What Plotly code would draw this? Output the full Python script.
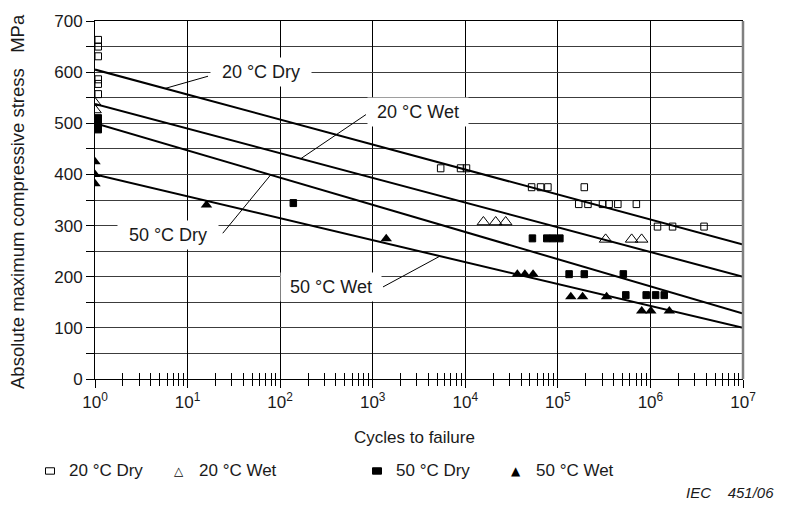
import plotly.graph_objects as go

# ---- Test results: cycles to failure vs. absolute maximum compressive stress (MPa) ----
dry20_cycles = [1, 1, 1, 1, 1, 1, 5000, 8200, 9500, 48000, 60000, 72000, 178000,
                155000, 195000, 280000, 330000, 410000, 650000, 1.1e6, 1.6e6, 3.5e6]
dry20_stress = [663, 650, 631, 586, 577, 557, 412, 412, 412, 375, 375, 375, 375,
                342, 342, 342, 342, 342, 342, 298, 298, 298]

wet20_cycles = [1, 1, 15700, 21300, 27300, 328000, 627000, 803000]
wet20_stress = [540, 526, 307, 307, 307, 273, 273, 273]

dry50_cycles = [1, 1, 1, 128, 49000, 70000, 82000, 97000, 122000, 178000, 470000,
                500000, 830000, 1.05e6, 1.3e6]
dry50_stress = [510, 499, 488, 344, 275, 275, 275, 275, 205, 205, 205,
                164, 164, 164, 164]

wet50_cycles = [1, 1, 1, 16, 1400, 36500, 44000, 54000, 138000, 185000, 336000,
                805000, 1.01e6, 1.6e6]
wet50_stress = [425, 400, 382, 340, 274, 205, 205, 205, 161, 161, 161, 133, 133, 133]

# ---- Design lines (stress at 1 and at 10^7 cycles) ----
fit_cycles = [1, 1e7]
fit_dry20 = [605, 263]
fit_wet20 = [538, 200]
fit_dry50 = [500, 128]
fit_wet50 = [400, 100]

series_names = ["20 °C Dry", "20 °C Wet", "50 °C Dry", "50 °C Wet"]

# ---- Page geometry ----
W, H = 790, 508
ML, MR, MT, MB = 95, 47, 17, 129
PW, PH = W - ML - MR, H - MT - MB
FONT = "Liberation Sans, Arial, Helvetica, sans-serif"
INK = "#1a1a1a"


def paper_x(px):
    return (px - ML) / PW


def paper_y(py):
    return (H - MB - py) / PH


def line_stress(fit, logn):
    """Stress on a straight design line (linear in log10 cycles)."""
    return fit[0] + (fit[1] - fit[0]) * logn / 7.0


fig = go.Figure()

# design lines
for fit in (fit_dry20, fit_wet20, fit_dry50, fit_wet50):
    fig.add_trace(go.Scatter(x=fit_cycles, y=fit, mode="lines",
                             line=dict(color="black", width=2),
                             hoverinfo="skip", showlegend=False))

# triangles
fig.add_trace(go.Scatter(x=wet20_cycles, y=wet20_stress, mode="markers",
                         name=series_names[1], showlegend=False,
                         marker=dict(symbol="triangle-up-open", size=11, color="black",
                                     line=dict(width=1, color="black"))))
fig.add_trace(go.Scatter(x=wet50_cycles, y=wet50_stress, mode="markers",
                         name=series_names[3], showlegend=False,
                         marker=dict(symbol="triangle-up", size=10, color="black",
                                     line=dict(width=0))))

# carrier for the inner half of the crossing minor ticks
fig.add_trace(go.Scatter(x=[], y=[], xaxis="x2", showlegend=False))

shapes = []


def rect_marks(cycles, stress, filled):
    # wide rectangular markers, sized in pixels and anchored at the data point
    for n, s in zip(cycles, stress):
        shapes.append(dict(type="rect", xref="x", yref="y",
                           xsizemode="pixel", ysizemode="pixel",
                           xanchor=n, yanchor=s,
                           x0=-6.5, x1=6.5, y0=-3.5, y1=3.5,
                           line=dict(color="black", width=1),
                           fillcolor="black" if filled else "rgba(0,0,0,0)",
                           layer="above"))


rect_marks(dry20_cycles, dry20_stress, False)
rect_marks(dry50_cycles, dry50_stress, True)

# right frame edge
shapes.append(dict(type="line", xref="paper", yref="paper", x0=1, x1=1, y0=0, y1=1,
                   line=dict(color="#808080", width=2.5), layer="above"))

# line labels with leader lines: (label log10 N, label stress, leader start log10 N,
# leader start stress, leader end log10 N on the line)
labels = [
    (series_names[0], fit_dry20, 1.793, 599.5, 1.221, 592, 0.756),
    (series_names[1], fit_wet20, 3.489, 522, 2.927, 517, 2.222),
    (series_names[2], fit_dry50, 0.789, 282, 1.380, 285, 1.898),
    (series_names[3], fit_wet50, 2.549, 180, 3.111, 180, 3.727),
]

annotations = []
for text, fit, lx, ly, sx, sy, ex in labels:
    annotations.append(dict(text=text, x=lx, y=ly, xref="x", yref="y", showarrow=False,
                            bgcolor="white", width=100, height=28, borderpad=0,
                            font=dict(family=FONT, size=18, color=INK)))
    shapes.append(dict(type="line", xref="x", yref="y",
                       x0=10 ** sx, y0=sy, x1=10 ** ex, y1=line_stress(fit, ex),
                       line=dict(color="black", width=1), layer="above"))

# axis titles
annotations.append(dict(text="Cycles to failure", x=paper_x(414), y=paper_y(438),
                        xref="paper", yref="paper", showarrow=False,
                        xanchor="center", yanchor="middle",
                        font=dict(family=FONT, size=17, color=INK)))
annotations.append(dict(text="Absolute maximum compressive stress\u00a0\u00a0\u00a0MPa",
                        x=paper_x(18), y=paper_y(200), xref="paper", yref="paper",
                        showarrow=False, textangle=-90, xanchor="center", yanchor="middle",
                        font=dict(family=FONT, size=18.5, color=INK)))

# legend row
leg_y = 472
for name, sx in ((series_names[0], 50), (series_names[2], 377)):
    shapes.append(dict(type="rect", xref="paper", yref="paper",
                       xsizemode="pixel", ysizemode="pixel",
                       xanchor=paper_x(sx), yanchor=paper_y(leg_y),
                       x0=-4.5, x1=4.5, y0=-3.2, y1=3.2,
                       line=dict(color="black", width=1),
                       fillcolor="black" if "50" in name else "rgba(0,0,0,0)"))
for glyph, sx in (("\u25b3", 179), ("\u25b2", 516)):
    annotations.append(dict(text=glyph, x=paper_x(sx), y=paper_y(leg_y), xref="paper",
                            yref="paper", showarrow=False, xanchor="center",
                            yanchor="middle",
                            font=dict(family="DejaVu Sans", size=12, color="black")))
for name, tx in zip(series_names, (67, 197, 394, 534)):
    annotations.append(dict(text=name, x=paper_x(tx), y=paper_y(leg_y), xref="paper",
                            yref="paper", showarrow=False, xanchor="left",
                            yanchor="middle",
                            font=dict(family=FONT, size=17, color=INK)))

annotations.append(dict(text="<i>IEC\u00a0\u00a0\u00a0\u00a0451/06</i>", x=paper_x(776),
                        y=paper_y(494), xref="paper", yref="paper", showarrow=False,
                        xanchor="right", yanchor="middle",
                        font=dict(family=FONT, size=15, color=INK)))

major = [10 ** k for k in range(8)]
minor_vals = [m * 10 ** k for k in range(7) for m in range(2, 10)]

fig.update_layout(
    width=W, height=H,
    margin=dict(l=ML, r=MR, t=MT, b=MB, pad=0),
    paper_bgcolor="white", plot_bgcolor="white",
    showlegend=False,
    xaxis=dict(type="log", range=[0, 7], tickvals=major,
               ticktext=[f"10<sup>{k}</sup>" for k in range(8)],
               ticks="outside", ticklen=8, tickwidth=1, tickcolor="black",
               showgrid=True, gridcolor="black", gridwidth=1,
               showline=True, linecolor="black", linewidth=1, mirror=True,
               zeroline=False,
               minor=dict(tickvals=minor_vals, ticks="outside", ticklen=6,
                          tickwidth=1, tickcolor="black", showgrid=False),
               tickfont=dict(family=FONT, size=17, color=INK)),
    xaxis2=dict(type="log", range=[0, 7], overlaying="x", side="bottom", anchor="y",
                showgrid=False, showticklabels=False, ticks="", showline=False,
                zeroline=False,
                minor=dict(tickvals=minor_vals, ticks="inside", ticklen=6,
                           tickwidth=1, tickcolor="black", showgrid=False)),
    yaxis=dict(range=[0, 700], tick0=0, dtick=100,
               ticks="outside", ticklen=8, tickwidth=1, tickcolor="black",
               showgrid=True, gridcolor="#3c3c3c", gridwidth=1,
               showline=True, linecolor="black", linewidth=1,
               zeroline=False,
               minor=dict(dtick=50, ticks="outside", ticklen=8, tickwidth=1,
                          tickcolor="black", showgrid=True, gridcolor="#3c3c3c",
                          gridwidth=1),
               tickfont=dict(family=FONT, size=17, color=INK)),
    shapes=shapes,
    annotations=annotations,
)

fig.write_html("out.html")
